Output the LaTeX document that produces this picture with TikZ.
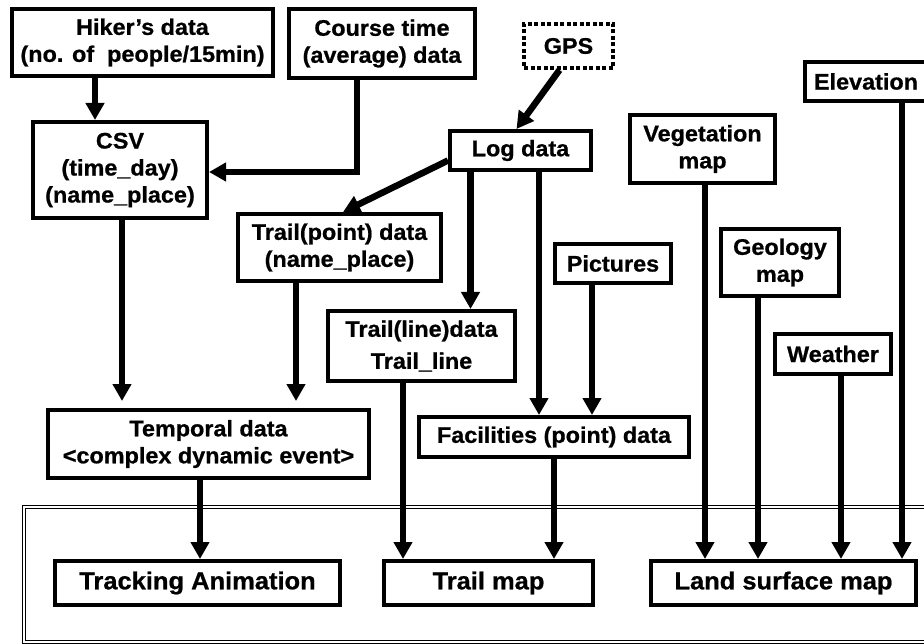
\documentclass[tikz,border=0pt]{standalone}
\usepackage{fontspec}
\setsansfont{Liberation Sans}[FakeStretch=1.04, BoldFeatures={FakeBold=0.8}]
\usetikzlibrary{arrows.meta}
\tikzset{
  every picture/.style={font=\sffamily\bfseries},
  box/.style={draw, line width=4pt, fill=white, align=center, inner sep=2pt, font=\sffamily\bfseries\fontsize{22.5}{27}\selectfont},
  outbox/.style={box, font=\sffamily\bfseries\fontsize{24.5}{27}\selectfont},
  gpsbox/.style={box, dash pattern=on 4pt off 2.5pt},
  arrow/.style={-{Triangle[width=18pt, length=17pt]}, line width=6.5pt},
  frame/.style={draw, double, double distance=1.3pt, line width=1.3pt},
}

\begin{document}
\begin{tikzpicture}[x=1pt, y=-1pt]
  \useasboundingbox (0,0) rectangle (924,644);
  \clip (0,0) rectangle (924,644);
  % ---- output frame ----
  \draw[frame] (24,507) rectangle (948,642);
  % ---- sources (top) ----
  \node[box, minimum width=261pt, minimum height=67pt] (hiker) at (142.5,42.5) {Hiker’s data\\(no. of~~people/15min)};
  \node[box, minimum width=186pt, minimum height=69pt] (course) at (382,43.5) {Course time\\(average) data};
  \node[gpsbox, minimum width=89pt, minimum height=44pt] (gps) at (568.5,46) {GPS};
  \node[box, minimum width=122pt, minimum height=39pt] (elev) at (866,81.5) {Elevation};
  \node[box, minimum width=174pt, minimum height=96pt] (csv) at (120,170) {CSV\\(time\_day)\\(name\_place)};
  \node[box, minimum width=141pt, minimum height=39pt] (log) at (520.5,150.5) {Log data};
  \node[box, minimum width=145pt, minimum height=68pt] (veg) at (702.5,149) {Vegetation\\map};
  % ---- intermediate data ----
  \node[box, minimum width=203pt, minimum height=67pt] (tpoint) at (339.5,247.5) {Trail(point) data\\(name\_place)};
  \node[box, minimum width=116pt, minimum height=39pt] (pict) at (613,263.5) {Pictures};
  \node[box, minimum width=118pt, minimum height=67pt] (geo) at (780,262.5) {Geology\\map};
  \node[box, minimum width=187pt, minimum height=70pt] (tline) at (421.5,346) {Trail(line)data\\[5pt]Trail\_line};
  \node[box, minimum width=116pt, minimum height=40pt] (weather) at (833,354) {Weather};
  \node[box, minimum width=321pt, minimum height=68pt] (temporal) at (208.5,444) {Temporal data\\<complex dynamic event>};
  \node[box, minimum width=270pt, minimum height=40pt] (fac) at (554,437) {Facilities (point) data};
  % ---- outputs ----
  \node[outbox, minimum width=285pt, minimum height=44pt] (track) at (197.5,583) {Tracking Animation};
  \node[outbox, minimum width=209pt, minimum height=44pt] (tmap) at (488.5,583) {Trail map};
  \node[outbox, minimum width=265pt, minimum height=44pt] (land) at (783.5,583) {Land surface map};
  % ---- connectors ----
  \draw[arrow] ([xshift=-47.5pt]hiker.south) -- ([xshift=-47.5pt]hiker.south |- csv.north);
  \draw[arrow] ([xshift=-25pt]course.south) |- ([yshift=-2pt]csv.east);
  \draw[arrow] ([xshift=-9pt]gps.south) -- ([xshift=-4pt]log.north);
  \draw[arrow] ([yshift=-10pt]log.west) -- ([xshift=3.5pt]tpoint.north);
  \draw[arrow] ([xshift=-50pt]log.south) -- ([xshift=-50pt]log.south |- tline.north);
  \draw[arrow] ([xshift=18.5pt]log.south) -- ([xshift=18.5pt]log.south |- fac.north);
  \draw[arrow] ([xshift=-21pt]pict.south) -- ([xshift=-21pt]pict.south |- fac.north);
  \draw[arrow, shorten >=7pt] ([xshift=2pt]csv.south) -- ([xshift=2pt]csv.south |- temporal.north);
  \draw[arrow, shorten >=7pt] ([xshift=-43.5pt]tpoint.south) -- ([xshift=-43.5pt]tpoint.south |- temporal.north);
  \draw[arrow] ([xshift=-8.5pt]temporal.south) -- ([xshift=-8.5pt]temporal.south |- track.north);
  \draw[arrow] ([xshift=-18.5pt]tline.south) -- ([xshift=-18.5pt]tline.south |- tmap.north);
  \draw[arrow] (fac.south) -- (fac.south |- tmap.north);
  \draw[arrow] ([xshift=2.5pt]veg.south) -- ([xshift=2.5pt]veg.south |- land.north);
  \draw[arrow] ([xshift=-22pt]geo.south) -- ([xshift=-22pt]geo.south |- land.north);
  \draw[arrow] ([xshift=8pt]weather.south) -- ([xshift=8pt]weather.south |- land.north);
  \draw[arrow] ([xshift=36pt]elev.south) -- ([xshift=36pt]elev.south |- land.north);
\end{tikzpicture}
\end{document}
